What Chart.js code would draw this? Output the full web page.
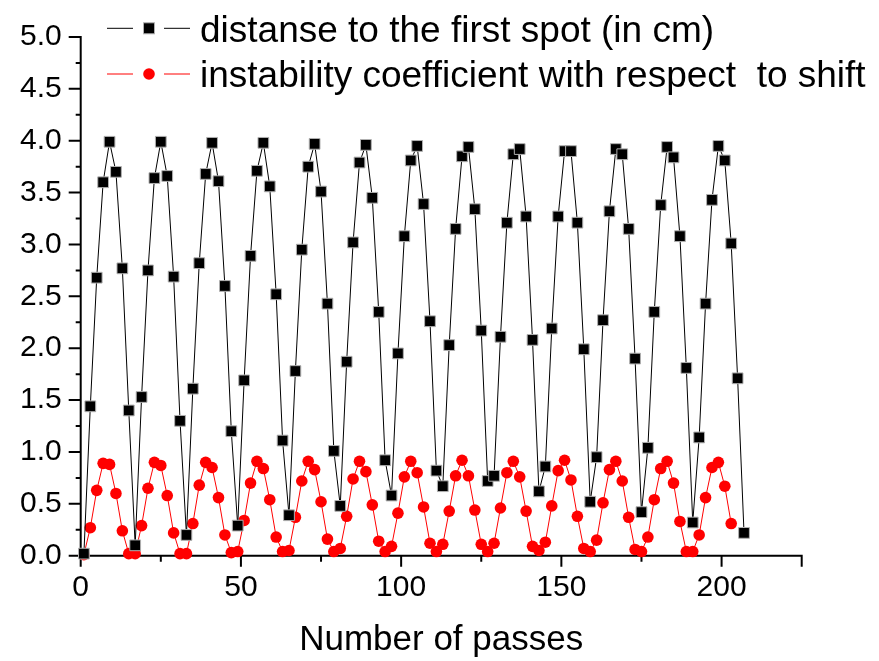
<!DOCTYPE html>
<html><head><meta charset="utf-8">
<script src="https://cdn.jsdelivr.net/npm/chart.js@4/dist/chart.umd.min.js"></script>
<style>html,body{margin:0;padding:0;background:#fff;}#wrap{width:879px;height:661px;position:relative;}</style>
</head><body><div id="wrap"><canvas id="c" width="879" height="661"></canvas></div>
<script>
const passes = [1,3,5,7,9,11,13,15,17,19,21,23,25,27,29,31,33,35,37,39,41,43,45,47,49,51,53,55,57,59,61,63,65,67,69,71,73,75,77,79,81,83,85,87,89,91,93,95,97,99,101,103,105,107,109,111,113,115,117,119,121,123,125,127,129,131,133,135,137,139,141,143,145,147,149,151,153,155,157,159,161,163,165,167,169,171,173,175,177,179,181,183,185,187,189,191,193,195,197,199,201,203,205,207];
const distance = [
0.02,1.44,2.68,3.60,3.99,3.70,2.77,1.40,
0.10,1.53,2.75,3.64,3.99,3.66,2.69,1.30,
0.20,1.61,2.82,3.68,3.98,3.61,2.60,1.20,
0.29,1.69,2.89,3.71,3.98,3.56,2.52,1.11,
0.39,1.78,2.95,3.75,3.97,3.51,2.43,1.01,
0.48,1.87,3.02,3.79,3.96,3.45,2.35,0.92,
0.58,1.95,3.08,3.81,3.95,3.39,2.26,0.82,
0.67,2.03,3.15,3.85,3.94,3.34,2.17,0.72,
0.77,2.11,3.21,3.87,3.92,3.27,2.08,0.62,
0.86,2.19,3.27,3.90,3.90,3.21,1.99,0.52,
0.95,2.27,3.32,3.92,3.87,3.15,1.90,0.42,
1.04,2.35,3.38,3.94,3.84,3.08,1.81,0.32,
1.14,2.43,3.43,3.95,3.81,3.01,1.71,0.22];
const instability = [
0.01,0.27,0.63,0.89,0.88,0.60,0.24,0.02,
0.02,0.29,0.65,0.90,0.87,0.58,0.22,0.02,
0.02,0.31,0.68,0.90,0.85,0.56,0.20,0.03,
0.04,0.34,0.70,0.91,0.84,0.54,0.18,0.04,
0.05,0.37,0.72,0.91,0.83,0.52,0.16,0.04,
0.07,0.38,0.74,0.91,0.81,0.49,0.14,0.04,
0.09,0.41,0.76,0.91,0.80,0.47,0.12,0.04,
0.11,0.43,0.77,0.92,0.77,0.44,0.11,0.04,
0.12,0.46,0.80,0.91,0.76,0.43,0.09,0.05,
0.13,0.48,0.82,0.92,0.73,0.38,0.07,0.04,
0.15,0.51,0.83,0.91,0.72,0.37,0.06,0.04,
0.18,0.54,0.84,0.91,0.70,0.33,0.04,0.04,
0.20,0.56,0.85,0.90,0.67,0.31];
const seriesNames = ['distanse to the first spot (in cm)', 'instability coefficient with respect  to shift'];
const xTickValues = [0,50,100,150,200];
const yTickLabels = ['0.0','0.5','1.0','1.5','2.0','2.5','3.0','3.5','4.0','4.5','5.0'];
const xRange = [0,225];
const yRange = [0,5];
const axisTitleX = 'Number of passes';

const FONT = "'Liberation Sans', Arial, Helvetica, sans-serif";

const axesPlugin = {
  id: 'originAxes',
  beforeDatasetsDraw(chart) {
    const {ctx, chartArea: a, scales: {x, y}} = chart;
    ctx.save();
    ctx.strokeStyle = '#000';
    ctx.lineWidth = 2;
    ctx.beginPath();
    ctx.moveTo(a.left, a.top - 1); ctx.lineTo(a.left, a.bottom);
    ctx.moveTo(a.left - 12, a.bottom); ctx.lineTo(a.right + 1, a.bottom);
    const yVals = yTickLabels.map(Number);
    yVals.forEach((v, i) => {
      const py = y.getPixelForValue(v);
      ctx.moveTo(a.left - 12, py); ctx.lineTo(a.left, py);
      if (i < yVals.length - 1) {
        const pm = y.getPixelForValue((v + yVals[i + 1]) / 2);
        ctx.moveTo(a.left - 5, pm); ctx.lineTo(a.left, pm);
      }
    });
    xTickValues.forEach((v) => {
      const px = x.getPixelForValue(v);
      ctx.moveTo(px, a.bottom); ctx.lineTo(px, a.bottom + 11);
      const pm = x.getPixelForValue(v + 25);
      ctx.moveTo(pm, a.bottom); ctx.lineTo(pm, a.bottom + 6);
    });
    const pe = x.getPixelForValue(xRange[1]);
    ctx.moveTo(pe, a.bottom); ctx.lineTo(pe, a.bottom + 11);
    ctx.stroke();
    ctx.restore();
  }
};

const legendPlugin = {
  id: 'originLegend',
  afterDraw(chart) {
    const ctx = chart.ctx;
    const rows = [28.3, 74];
    const bases = [41.7, 87.3];
    chart.data.datasets.forEach((d, i) => {
      const yy = rows[i];
      ctx.save();
      ctx.strokeStyle = d.borderColor;
      ctx.lineWidth = 1;
      ctx.beginPath();
      ctx.moveTo(107, yy); ctx.lineTo(133, yy);
      ctx.moveTo(164, yy); ctx.lineTo(190, yy);
      ctx.stroke();
      ctx.fillStyle = d.pointBackgroundColor;
      if (d.pointStyle === 'rect') {
        ctx.fillRect(149 - 5.5, yy - 5.5, 11, 11);
        ctx.strokeStyle = d.pointBorderColor; ctx.lineWidth = 1;
        ctx.strokeRect(149 - 5.5, yy - 5.5, 11, 11);
      } else {
        ctx.beginPath(); ctx.arc(149, yy, 5.8, 0, Math.PI * 2); ctx.fill();
      }
      ctx.fillStyle = '#000';
      ctx.font = '37px ' + FONT;
      ctx.textBaseline = 'alphabetic';
      ctx.textAlign = 'left';
      ctx.fillText(d.label, 200, bases[i]);
      ctx.restore();
    });
  }
};

new Chart(document.getElementById('c'), {
  type: 'line',
  data: {
    datasets: [
      {
        label: seriesNames[0],
        data: passes.map((p, i) => ({x: p, y: distance[i]})),
        borderColor: '#000', borderWidth: 1, tension: 0,
        pointStyle: 'rect', pointRadius: 7.6, pointBackgroundColor: '#000',
        pointBorderColor: '#b0b0b0', pointBorderWidth: 1, clip: false
      },
      {
        label: seriesNames[1],
        data: instability.map((v, i) => ({x: passes[i], y: v})),
        borderColor: '#ff0000', borderWidth: 1, tension: 0,
        pointStyle: 'circle', pointRadius: 5.8, pointBackgroundColor: '#ff0000',
        pointBorderColor: '#ff0000', pointBorderWidth: 0, clip: false
      }
    ]
  },
  options: {
    responsive: false, animation: false, devicePixelRatio: 1,
    layout: {padding: {left: 0, right: 77.3, top: 22.3, bottom: 0}},
    plugins: {legend: {display: false}, tooltip: {enabled: false}},
    elements: {point: {hoverRadius: 0}},
    scales: {
      x: {
        type: 'linear', min: xRange[0], max: xRange[1],
        afterBuildTicks: s => { s.ticks = xTickValues.map(v => ({value: v})); },
        afterFit: s => { s.height = 661 - 555.7; },
        grid: {display: false, drawTicks: false}, border: {display: false},
        ticks: {padding: 14, color: '#000', font: {family: FONT, size: 30}, maxRotation: 0, autoSkip: false, callback: v => String(v)},
        title: {display: true, text: axisTitleX, color: '#000', font: {family: FONT, size: 35}, padding: 0}
      },
      y: {
        type: 'linear', min: yRange[0], max: yRange[1],
        afterBuildTicks: s => { s.ticks = yTickLabels.map(v => ({value: Number(v)})); },
        afterFit: s => { s.width = 80.7; },
        grid: {display: false, drawTicks: false}, border: {display: false},
        ticks: {padding: 19, color: '#000', font: {family: FONT, size: 30}, autoSkip: false, callback: (v, i) => yTickLabels[i]}
      }
    }
  },
  plugins: [axesPlugin, legendPlugin]
});
</script>
</body></html>
